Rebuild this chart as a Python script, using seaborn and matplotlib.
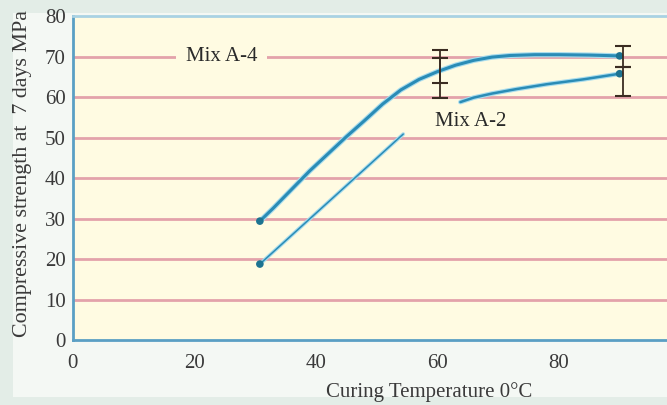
import pandas as pd
import matplotlib
matplotlib.use("Agg")
import matplotlib.pyplot as plt
import matplotlib.patheffects as pe
from matplotlib.patches import Rectangle
import seaborn as sns

# Values (curing temperature, strength)
a4_temp = [30.8, 33.0, 36.0, 39.0, 42.0, 45.0, 48.0, 51.0, 54.0, 57.0,
           60.0, 63.0, 66.0, 69.0, 72.0, 76.0, 80.0, 85.0, 90.0]
a4_strength = [29.4, 32.6, 37.2, 41.8, 46.0, 50.2, 54.2, 58.3, 61.8, 64.4,
               66.3, 67.9, 69.1, 69.9, 70.3, 70.5, 70.5, 70.4, 70.2]

a2_low_temp = [30.8, 54.4]
a2_low_strength = [18.8, 50.9]
a2_high_temp = [63.8, 66.0, 69.0, 73.0, 78.0, 84.0, 90.0]
a2_high_strength = [58.8, 59.9, 60.9, 62.0, 63.2, 64.4, 65.8]

marker_temp = [30.8, 30.8, 90.0, 90.0]
marker_strength = [29.4, 18.8, 70.2, 65.8]

# error bars: x, centre, low, high
err_temp = [60.5, 60.5, 90.5, 90.5]
err_mid = [66.6, 64.5, 70.2, 65.8]
err_low = [63.4, 59.8, 67.5, 60.2]
err_high = [71.6, 69.7, 72.6, 67.5]

x_ticks = [0, 20, 40, 60, 80]
y_ticks = [0, 10, 20, 30, 40, 50, 60, 70, 80]

BLUE = "#2a8cb6"
GLOW = "#a8dced"
GRID = "#e3a2aa"
BG = "#fffbe2"
FIG_BG = "#e3ede7"
PANEL = "#f4f8f4"


def draw_curve(ax, xs, ys, lw):
    df = pd.DataFrame({"t": xs, "s": ys})
    sns.lineplot(data=df, x="t", y="s", ax=ax, color=BLUE, lw=lw,
                 sort=False, estimator=None, zorder=3,
                 path_effects=[pe.Stroke(linewidth=lw + 1.6, foreground=GLOW),
                               pe.Normal()])


def main():
    sns.set_theme(style="white")
    plt.rcParams["font.family"] = ["Liberation Serif", "DejaVu Serif"]

    fig = plt.figure(figsize=(6.67, 4.05), dpi=100, facecolor=FIG_BG)
    # pale panel behind the chart
    fig.add_artist(Rectangle((0.0195, 0.02), 0.99, 0.948, transform=fig.transFigure,
                             fc=PANEL, ec="none", zorder=0))
    ax = fig.add_axes([0.109, 0.16, 0.891, 0.80])
    ax.set_facecolor(BG)

    # horizontal grid lines
    for y in y_ticks[1:-1]:
        ax.axhline(y, color=GRID, lw=2, zorder=1)

    draw_curve(ax, a4_temp, a4_strength, 2.2)
    draw_curve(ax, a2_low_temp, a2_low_strength, 1.1)
    draw_curve(ax, a2_high_temp, a2_high_strength, 1.8)

    sns.scatterplot(x=marker_temp, y=marker_strength, ax=ax, color="#1d7391",
                    s=30, edgecolor="none", zorder=4)

    for x, m, l, h in zip(err_temp, err_mid, err_low, err_high):
        ax.errorbar([x], [m], yerr=[[m - l], [h - m]], fmt="none",
                    ecolor="#3b2c22", elinewidth=1.3, capsize=6, capthick=1.5,
                    zorder=5)

    ax.text(24.5, 70, "Mix A-4", fontsize=15, color="#2a2a2a", ha="center",
            va="center", zorder=6,
            bbox=dict(boxstyle="square,pad=0.45", fc=BG, ec="none"))
    ax.text(65.5, 54.0, "Mix A-2", fontsize=15, color="#2a2a2a", ha="center",
            va="center", zorder=6)

    ax.set_xlim(0, 97.8)
    ax.set_ylim(0, 80)
    ax.set_xticks(x_ticks)
    ax.set_yticks(y_ticks)
    ax.tick_params(axis="both", colors="#3a3a3a", labelsize=15, length=4,
                   width=1.2, direction="out", color="#4a88ad")
    ax.tick_params(axis="x", pad=6)
    ax.tick_params(axis="y", pad=1)

    for side in ["left", "bottom"]:
        ax.spines[side].set_color("#5a9fc4")
        ax.spines[side].set_linewidth(2)
    ax.spines["top"].set_color("#a9d2e3")
    ax.spines["top"].set_linewidth(2)
    ax.spines["right"].set_visible(False)

    ax.set_xlabel("Curing Temperature 0°C", fontsize=15, color="#3a3a3a",
                  labelpad=0)
    ax.xaxis.set_label_coords(0.6, -0.13)
    ax.set_ylabel("Compressive strength at  7 days MPa", fontsize=15.8,
                  color="#3a3a3a")
    ax.yaxis.set_label_coords(-0.069, 0.515)

    fig.savefig("out.png", dpi=100, facecolor=FIG_BG)
    plt.close(fig)


if __name__ == "__main__":
    main()
